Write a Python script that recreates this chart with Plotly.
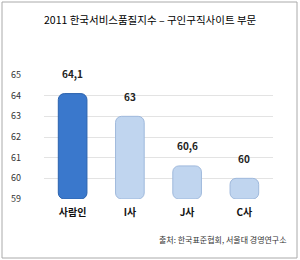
import plotly.graph_objects as go

categories = ["사람인", "I사", "J사", "C사"]
values = [64.1, 63, 60.6, 60]
value_labels = ["64,1", "63", "60,6", "60"]
tick_vals = [59, 60, 61, 62, 63, 64, 65]
colors = ["#3a78cc", "#c0d5ef", "#c0d5ef", "#c0d5ef"]
line_colors = ["#2b62ad", "#9fb9dc", "#9fb9dc", "#9fb9dc"]

base = 59
font = "Noto Sans CJK KR"

fig = go.Figure()
fig.add_trace(go.Bar(
    x=categories,
    y=[v - base for v in values],
    base=base,
    width=0.5,
    marker=dict(color=colors, line=dict(color=line_colors, width=1), cornerradius=6),
    hoverinfo="skip",
))

for c, v, t in zip(categories, values, value_labels):
    fig.add_annotation(x=c, y=v, text=f"<b>{t}</b>", showarrow=False, yshift=20,
                       font=dict(family=font, size=10, color="#222222"))

# plot area: x 44..273, y 75..199
L, R, T, B = 44, 273, 75, 199
W, H = R - L, B - T
def px(x):
    return (x - L) / W
def py(y):
    return (B - y) / H

fig.add_shape(type="rect", xref="paper", yref="paper",
              x0=px(2), x1=px(297), y0=py(258), y1=py(2),
              line=dict(color="#aaaaaa", width=1), fillcolor="rgba(0,0,0,0)", layer="below")

fig.add_annotation(xref="paper", yref="paper", x=px(150), y=py(20), text="2011 한국서비스품질지수 – 구인구직사이트 부문",
                   showarrow=False, xanchor="center", yanchor="middle",
                   font=dict(family=font, size=10.5, color="#000000"))
fig.add_annotation(xref="paper", yref="paper", x=px(289), y=py(239), text="출처: 한국표준협회, 서울대 경영연구소",
                   showarrow=False, xanchor="right", yanchor="middle",
                   font=dict(family=font, size=8, color="#333333"))

fig.update_layout(
    width=300, height=260,
    margin=dict(l=L, r=300 - R, t=T, b=260 - B),
    paper_bgcolor="white", plot_bgcolor="white",
    showlegend=False,
    bargap=0.5,
    xaxis=dict(tickfont=dict(family=font, size=10, color="#111111"), showline=False,
               ticks="", tickprefix="<b>", ticksuffix="</b>", ticklabelstandoff=6),
    yaxis=dict(range=[59, 65], tickvals=tick_vals, showgrid=True, gridcolor="#e3e3e3",
               zeroline=False, showline=False, ticks="",
               tickfont=dict(family=font, size=9, color="#333333"), ticklabelstandoff=22),
)

fig.write_html("out.html")
